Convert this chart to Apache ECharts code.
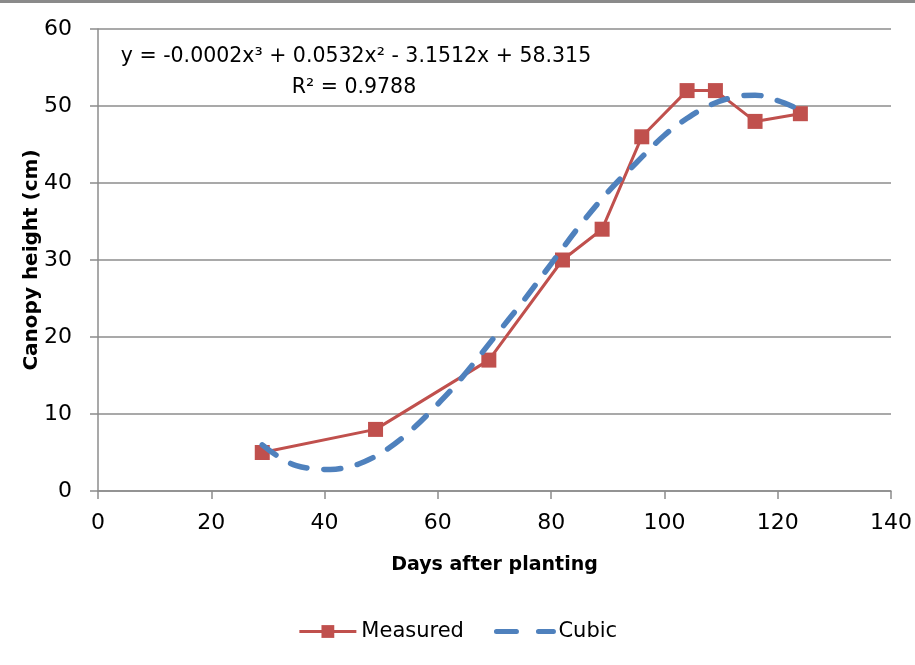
<!DOCTYPE html>
<html>
<head>
<meta charset="utf-8">
<script src="https://cdn.jsdelivr.net/npm/echarts@6/dist/echarts.min.js"></script>
<style>
  html, body { margin: 0; padding: 0; background: #fff; }
  #chart { width: 915px; height: 665px; }
</style>
</head>
<body>
<div id="chart"></div>
<script>
// Canopy height measurements (days after planting, cm)
const measuredDays = [29, 49, 69, 82, 89, 96, 104, 109, 116, 124];
const measuredHeight = [5, 8, 17, 30, 34, 46, 52, 52, 48, 49];

// Cubic trend line, sampled along its drawn path
const cubicDays = [29, 32, 35, 38, 41, 44, 47, 51, 55, 60, 64, 70, 75, 80, 85, 90, 95, 100, 104, 108, 112, 116, 120, 124];
const cubicHeight = [6.0, 4.4, 3.3, 2.9, 2.8, 3.1, 3.8, 5.4, 7.7, 11.3, 14.5, 20.0, 24.6, 29.5, 34.4, 38.8, 42.6, 46.2, 48.4, 50.1, 51.1, 51.4, 50.7, 49.5];

const equationText = 'y = -0.0002x³ + 0.0532x² - 3.1512x + 58.315';
const rSquaredText = 'R² = 0.9788';

const seriesNames = ['Measured', 'Cubic'];
const xAxisTitle = 'Days after planting';
const yAxisTitle = 'Canopy height (cm)';

const pairs = (xs, ys) => xs.map((x, i) => [x, ys[i]]);

const FONT = 'DejaVu Sans';
const GRID_GRAY = '#8c8c8c';
const RED = '#C0504D';
const BLUE = '#4F81BD';
const CUBIC_DASH = [17, 17];

const chart = echarts.init(document.getElementById('chart'), null, { renderer: 'canvas' });

chart.setOption({
  backgroundColor: '#ffffff',
  animation: false,
  textStyle: { fontFamily: FONT, color: '#000' },
  grid: { left: 98, right: 24, top: 29, bottom: 174, containLabel: false },
  xAxis: {
    type: 'value',
    min: 0, max: 140, interval: 20,
    name: xAxisTitle,
    nameLocation: 'middle',
    nameGap: 65,
    nameTextStyle: { fontFamily: FONT, fontWeight: 'bold', fontSize: 19, color: '#000' },
    axisLine: { show: true, lineStyle: { color: GRID_GRAY, width: 1.5 } },
    axisTick: { show: true, inside: false, length: 8, lineStyle: { color: GRID_GRAY, width: 1.5 } },
    axisLabel: { fontFamily: FONT, fontSize: 22, color: '#000', margin: 21 },
    splitLine: { show: false }
  },
  yAxis: {
    type: 'value',
    min: 0, max: 60, interval: 10,
    name: yAxisTitle,
    nameLocation: 'middle',
    nameGap: 56,
    nameMoveOverlap: false,
    nameRotate: 90,
    nameTextStyle: { fontFamily: FONT, fontWeight: 'bold', fontSize: 20, color: '#000' },
    axisLine: { show: true, lineStyle: { color: GRID_GRAY, width: 1.5 } },
    axisTick: { show: true, inside: false, length: 8, lineStyle: { color: GRID_GRAY, width: 1.5 } },
    axisLabel: { fontFamily: FONT, fontSize: 22, color: '#000', margin: 26 },
    splitLine: { show: true, lineStyle: { color: GRID_GRAY, width: 1.5 } }
  },
  legend: {
    bottom: 18,
    left: 'center',
    itemWidth: 57,
    itemHeight: 16,
    itemGap: 30,
    textStyle: { fontFamily: FONT, fontSize: 21, color: '#000' },
    data: [
      { name: seriesNames[0], lineStyle: { color: RED, width: 3 } },
      {
        name: seriesNames[1],
        itemStyle: { opacity: 0 },
        lineStyle: { color: BLUE, width: 5, type: [20, 22], cap: 'round' }
      }
    ]
  },
  graphic: [
    {
      type: 'rect',
      left: 0, top: 0,
      shape: { width: 915, height: 3 },
      style: { fill: '#8a8a8a' },
      silent: true
    },
    {
      type: 'text',
      x: 356, y: 57,
      style: {
        text: equationText,
        fontFamily: FONT, fontSize: 20.5, fill: '#000',
        textAlign: 'center', textVerticalAlign: 'middle'
      }
    },
    {
      type: 'text',
      x: 354, y: 88,
      style: {
        text: rSquaredText,
        fontFamily: FONT, fontSize: 20.5, fill: '#000',
        textAlign: 'center', textVerticalAlign: 'middle'
      }
    }
  ],
  series: [
    {
      name: seriesNames[0],
      type: 'line',
      data: pairs(measuredDays, measuredHeight),
      symbol: 'rect',
      symbolSize: 15,
      z: 3,
      itemStyle: { color: RED },
      lineStyle: { color: RED, width: 3 }
    },
    {
      name: seriesNames[1],
      type: 'line',
      data: pairs(cubicDays, cubicHeight),
      smooth: 0.4,
      symbol: 'none',
      z: 4,
      itemStyle: { color: BLUE },
      lineStyle: { color: BLUE, width: 5.5, type: CUBIC_DASH, cap: 'round' }
    }
  ]
});
</script>
</body>
</html>
